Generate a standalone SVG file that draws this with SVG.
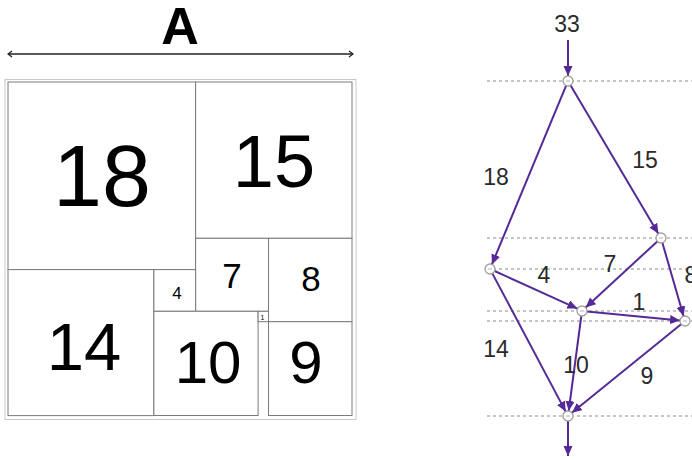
<svg xmlns="http://www.w3.org/2000/svg" width="692" height="460" viewBox="0 0 692 460">
<defs>
<style>
.sq{fill:#fff;stroke:#7a7a7a;stroke-width:1}
.num{font-family:"Liberation Sans",Arial,sans-serif;fill:#000;text-anchor:middle}
.lbl{font-family:"Liberation Sans",Arial,sans-serif;fill:#2a2a2a;text-anchor:middle;font-size:23px}
.dash{stroke:#8a8a8a;stroke-width:1;stroke-dasharray:3 3;fill:none}
.edge{stroke:#552a96;stroke-width:2;fill:none;marker-end:url(#ah)}
.node{fill:#fff;stroke:#a0a0a0;stroke-width:1.3}
.tick{stroke:#a0a0a0;stroke-width:0.8}
</style>
<marker id="ah" markerUnits="userSpaceOnUse" markerWidth="12" markerHeight="10" refX="10" refY="4.5" orient="auto">
<path d="M0,0 L10,4.5 L0,9 z" fill="#552a96"/>
</marker>
<marker id="dimL" markerUnits="userSpaceOnUse" markerWidth="8" markerHeight="8" refX="1" refY="4" orient="auto">
<path d="M5,1 L1,4 L5,7" fill="none" stroke="#222" stroke-width="1.2"/>
</marker>
<marker id="dimR" markerUnits="userSpaceOnUse" markerWidth="8" markerHeight="8" refX="7" refY="4" orient="auto">
<path d="M3,1 L7,4 L3,7" fill="none" stroke="#222" stroke-width="1.2"/>
</marker>
</defs>
<rect width="692" height="460" fill="#fff"/>

<g id="dimension">
<text class="num" x="180" y="44" font-size="52" font-weight="bold">A</text>
<line x1="8" y1="54" x2="353" y2="54" stroke="#222" stroke-width="1.3" marker-start="url(#dimL)" marker-end="url(#dimR)"/>
</g>

<g id="squares">
<rect x="5" y="79.5" width="351" height="340" fill="none" stroke="#c8c8c8" stroke-width="1"/>
<g id="sq18"><rect class="sq" x="8" y="82" width="187.6" height="187.6"/><text class="num" x="102" y="206" font-size="88">18</text></g>
<g id="sq15"><rect class="sq" x="195.6" y="82" width="156.4" height="156.3"/><text class="num" x="274" y="187" font-size="74">15</text></g>
<g id="sq7"><rect class="sq" x="195.6" y="238.3" width="72.9" height="73"/><text class="num" x="232" y="288" font-size="35">7</text></g>
<g id="sq8"><rect class="sq" x="268.5" y="238.3" width="83.5" height="83.4"/><text class="num" x="311" y="291" font-size="35">8</text></g>
<g id="sq14"><rect class="sq" x="8" y="269.6" width="145.9" height="146"/><text class="num" x="84" y="370" font-size="67">14</text></g>
<g id="sq4"><rect class="sq" x="153.9" y="269.6" width="41.7" height="41.7"/><text class="num" x="177" y="299" font-size="17">4</text></g>
<g id="sq10"><rect class="sq" x="153.9" y="311.3" width="104.2" height="104.2"/><text class="num" x="208" y="383" font-size="60">10</text></g>
<g id="sq1"><rect class="sq" x="258.1" y="311.3" width="10.4" height="10.4"/><text class="num" x="262.5" y="320" font-size="7">1</text></g>
<g id="sq9"><rect class="sq" x="268.5" y="321.7" width="83.5" height="93.8"/><text class="num" x="306" y="383" font-size="60">9</text></g>
</g>

<g id="levels">
<line class="dash" x1="487" y1="81" x2="692" y2="81"/>
<line class="dash" x1="487" y1="238" x2="692" y2="238"/>
<line class="dash" x1="487" y1="269" x2="692" y2="269"/>
<line class="dash" x1="487" y1="311" x2="692" y2="311"/>
<line class="dash" x1="487" y1="321" x2="692" y2="321"/>
<line class="dash" x1="487" y1="416" x2="692" y2="416"/>
</g>

<g id="connectors">
<line class="edge" x1="568" y1="40" x2="568" y2="76"/>
<line class="edge" x1="566.1" y1="85.6" x2="491.9" y2="264.4"/>
<line class="edge" x1="570.5" y1="85.3" x2="658.4" y2="233.7"/>
<line class="edge" x1="494.6" y1="271" x2="577.4" y2="308.6"/>
<line class="edge" x1="657.3" y1="241.4" x2="585.7" y2="307.6"/>
<line class="edge" x1="662.4" y1="242.8" x2="683.6" y2="316.2"/>
<line class="edge" x1="587" y1="311.5" x2="680" y2="320.5"/>
<line class="edge" x1="492.3" y1="273.4" x2="565.7" y2="411.6"/>
<line class="edge" x1="581.3" y1="316" x2="568.7" y2="411"/>
<line class="edge" x1="681.1" y1="324.2" x2="571.9" y2="412.8"/>
<line class="edge" x1="568" y1="421" x2="568" y2="456"/>
<text class="lbl" x="567" y="32" font-size="22">33</text>
<text class="lbl" x="496" y="185">18</text>
<text class="lbl" x="645" y="168">15</text>
<text class="lbl" x="544" y="283">4</text>
<text class="lbl" x="610" y="272">7</text>
<text class="lbl" x="691" y="283">8</text>
<text class="lbl" x="639" y="310">1</text>
<text class="lbl" x="496" y="357">14</text>
<text class="lbl" x="576" y="373">10</text>
<text class="lbl" x="647" y="384">9</text>
</g>

<g id="nodeTop"><circle class="node" cx="568" cy="81" r="5"/><line class="tick" x1="566" y1="81" x2="570" y2="81"/></g>
<g id="nodeR"><circle class="node" cx="661" cy="238" r="5"/><line class="tick" x1="659" y1="238" x2="663" y2="238"/></g>
<g id="nodeL"><circle class="node" cx="490" cy="269" r="5"/><line class="tick" x1="488" y1="269" x2="492" y2="269"/></g>
<g id="nodeM"><circle class="node" cx="582" cy="311" r="5"/><line class="tick" x1="580" y1="311" x2="584" y2="311"/></g>
<g id="nodeQ"><circle class="node" cx="685" cy="321" r="5"/><line class="tick" x1="683" y1="321" x2="687" y2="321"/></g>
<g id="nodeB"><circle class="node" cx="568" cy="416" r="5"/><line class="tick" x1="566" y1="416" x2="570" y2="416"/></g>
</svg>
